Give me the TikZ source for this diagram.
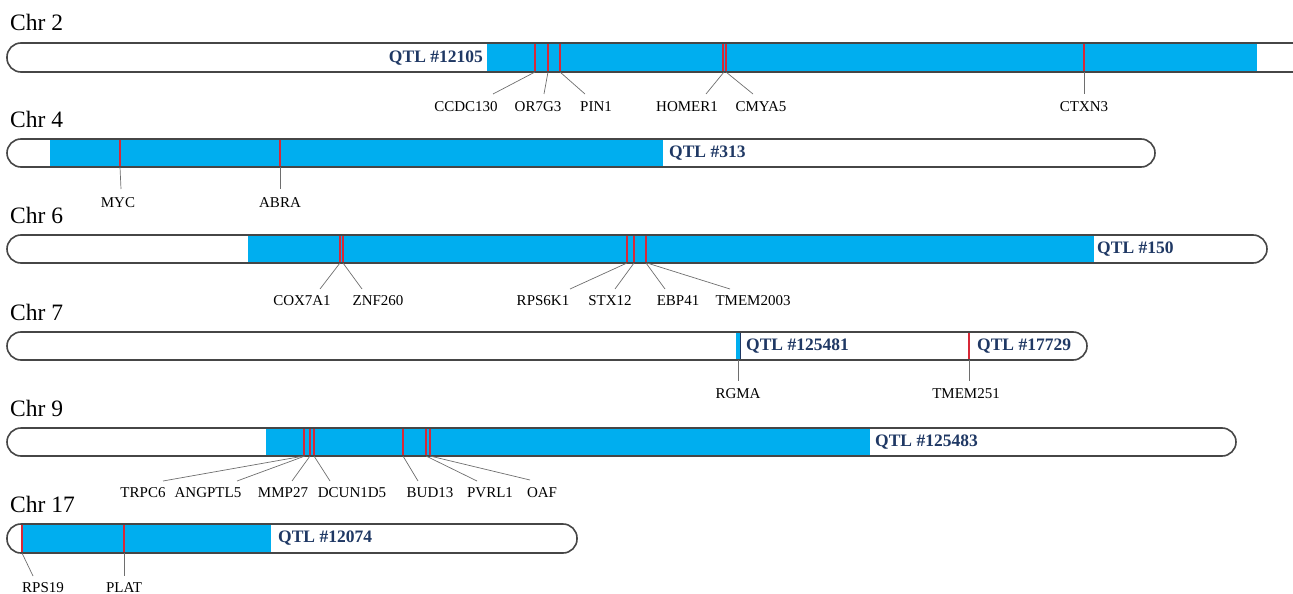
\documentclass[tikz,border=0pt]{standalone}
\usepackage{fontspec}
\setmainfont{Liberation Serif}
\definecolor{qtlblue}{RGB}{0,174,239}
\definecolor{qtltext}{RGB}{31,56,100}
\definecolor{markred}{RGB}{215,40,55}
\definecolor{barline}{RGB}{70,70,70}
\definecolor{leadgray}{RGB}{110,110,110}
\tikzset{
  chrbar/.style={draw=barline, line width=1.6pt, rounded corners=14pt},
  qtlfill/.style={fill=qtlblue},
  marker/.style={draw=markred, line width=1.3pt},
  leader/.style={draw=leadgray, line width=0.7pt},
  gene/.style={inner sep=0pt, anchor=base, font=\fontsize{15}{18}\selectfont},
  qtllab/.style={inner sep=0pt, text=qtltext, font=\fontsize{17.5}{20}\selectfont\bfseries},
  chrlab/.style={inner sep=0pt, anchor=base west, font=\fontsize{23.5}{26}\selectfont},
}
\begin{document}
\begin{tikzpicture}[x=1pt,y=-1pt]
\useasboundingbox (0,0) rectangle (1293,594);
\clip (0,0) rectangle (1293,594);

% ---------------- Chr 2 ----------------
\node[chrlab] (c2) at (10,31) {Chr 2};
\fill[white] (7,43) rectangle (1320,72);
\fill[qtlfill] (487,43) rectangle (1257,72);
\foreach \x in {535,548,560,723,726,1084} \draw[marker] (\x,44) -- (\x,71);
\draw[chrbar] (7,43) rectangle (1330,72);
\node[qtllab, anchor=east] (q2) at (483,58) {QTL \#12105};
\coordinate (m2a) at (535,72); \coordinate (m2b) at (548,72); \coordinate (m2c) at (560,72);
\coordinate (m2d) at (724,72); \coordinate (m2e) at (726,72); \coordinate (m2f) at (1084,72);
\node[gene] (g2a) at (466,111) {CCDC130};
\node[gene] (g2b) at (538,111) {OR7G3};
\node[gene] (g2c) at (596,111) {PIN1};
\node[gene] (g2d) at (687,111) {HOMER1};
\node[gene] (g2e) at (761,111) {CMYA5};
\node[gene] (g2f) at (1084,111) {CTXN3};
\coordinate (e2a) at (493,94); \coordinate (e2b) at (544,94); \coordinate (e2c) at (585,94);
\coordinate (e2d) at (706,94); \coordinate (e2e) at (753,94); \coordinate (e2f) at (1084,94);
\draw[leader] (m2a) -- (e2a); \draw[leader] (m2b) -- (e2b); \draw[leader] (m2c) -- (e2c);
\draw[leader] (m2d) -- (e2d); \draw[leader] (m2e) -- (e2e); \draw[leader] (m2f) -- (e2f);

% ---------------- Chr 4 ----------------
\node[chrlab] (c4) at (10,127) {Chr 4};
\fill[white] (7,139) rectangle (1155,167);
\fill[qtlfill] (50,139) rectangle (663,167);
\foreach \x in {120,280} \draw[marker] (\x,140) -- (\x,166);
\draw[chrbar] (7,139) rectangle (1155,167);
\node[qtllab, anchor=west] (q4) at (669,153) {QTL \#313};
\coordinate (m4a) at (120,167); \coordinate (m4b) at (280,167);
\node[gene] (g4a) at (118,207) {MYC};
\node[gene] (g4b) at (280,207) {ABRA};
\coordinate (e4a) at (121,189); \coordinate (e4b) at (280,189);
\draw[leader] (m4a) -- (e4a); \draw[leader] (m4b) -- (e4b);

% ---------------- Chr 6 ----------------
\node[chrlab] (c6) at (10,223) {Chr 6};
\fill[white] (7,235) rectangle (1267,263);
\fill[qtlfill] (248,235) rectangle (1094,263);
\foreach \x in {340,343,627,634,646} \draw[marker] (\x,236) -- (\x,262);
\draw[chrbar] (7,235) rectangle (1267,263);
\node[qtllab, anchor=west] (q6) at (1097,249) {QTL \#150};
\coordinate (m6a) at (340,263); \coordinate (m6b) at (343,263); \coordinate (m6c) at (627,263);
\coordinate (m6d) at (634,263); \coordinate (m6e) at (646,263); \coordinate (m6f) at (647,263);
\node[gene] (g6a) at (302,305) {COX7A1};
\node[gene] (g6b) at (378,305) {ZNF260};
\node[gene] (g6c) at (543,305) {RPS6K1};
\node[gene] (g6d) at (610,305) {STX12};
\node[gene] (g6e) at (678,305) {EBP41};
\node[gene] (g6f) at (753,305) {TMEM2003};
\coordinate (e6a) at (320,289); \coordinate (e6b) at (362,289); \coordinate (e6c) at (570,289);
\coordinate (e6d) at (615,289); \coordinate (e6e) at (665,289); \coordinate (e6f) at (730,289);
\draw[leader] (m6a) -- (e6a); \draw[leader] (m6b) -- (e6b); \draw[leader] (m6c) -- (e6c);
\draw[leader] (m6d) -- (e6d); \draw[leader] (m6e) -- (e6e); \draw[leader] (m6f) -- (e6f);

% ---------------- Chr 7 ----------------
\node[chrlab] (c7) at (10,320) {Chr 7};
\fill[white] (7,332) rectangle (1087,360);
\fill[qtlfill] (735.5,332) rectangle (739.5,360);
\draw[draw=qtltext, line width=0.6pt] (740,333) -- (740,359);
\draw[marker] (969,333) -- (969,359);
\draw[chrbar] (7,332) rectangle (1087,360);
\node[qtllab, anchor=west] (q7a) at (746,346) {QTL \#125481};
\node[qtllab, anchor=west] (q7b) at (977,346) {QTL \#17729};
\coordinate (m7a) at (738,360); \coordinate (m7b) at (969,360);
\node[gene] (g7a) at (738,398) {RGMA};
\node[gene] (g7b) at (966,398) {TMEM251};
\coordinate (e7a) at (738,381); \coordinate (e7b) at (969,381);
\draw[leader] (m7a) -- (e7a); \draw[leader] (m7b) -- (e7b);

% ---------------- Chr 9 ----------------
\node[chrlab] (c9) at (10,416) {Chr 9};
\fill[white] (7,428) rectangle (1236,456);
\fill[qtlfill] (266,428) rectangle (870,456);
\foreach \x in {304,310,314,403,426,430} \draw[marker] (\x,429) -- (\x,455);
\draw[chrbar] (7,428) rectangle (1236,456);
\node[qtllab, anchor=west] (q9) at (875,442) {QTL \#125483};
\coordinate (m9a) at (304,456); \coordinate (m9b) at (305,456); \coordinate (m9c) at (310,456);
\coordinate (m9d) at (314,456); \coordinate (m9e) at (403,456); \coordinate (m9f) at (426,456);
\coordinate (m9g) at (430,456);
\node[gene] (g9a) at (143,497) {TRPC6};
\node[gene] (g9b) at (208,497) {ANGPTL5};
\node[gene] (g9c) at (283,497) {MMP27};
\node[gene] (g9d) at (352,497) {DCUN1D5};
\node[gene] (g9e) at (430,497) {BUD13};
\node[gene] (g9f) at (490,497) {PVRL1};
\node[gene] (g9g) at (542,497) {OAF};
\coordinate (e9a) at (163,481); \coordinate (e9b) at (237,481); \coordinate (e9c) at (292,481);
\coordinate (e9d) at (330,481); \coordinate (e9e) at (418,481); \coordinate (e9f) at (477,481);
\coordinate (e9g) at (530,480);
\draw[leader] (m9a) -- (e9a); \draw[leader] (m9b) -- (e9b); \draw[leader] (m9c) -- (e9c);
\draw[leader] (m9d) -- (e9d); \draw[leader] (m9e) -- (e9e); \draw[leader] (m9f) -- (e9f);
\draw[leader] (m9g) -- (e9g);

% ---------------- Chr 17 ----------------
\node[chrlab] (c17) at (10,512) {Chr 17};
\fill[white] (7,524) rectangle (577,553);
\fill[qtlfill] (22,524) rectangle (271,553);
\foreach \x in {22,124} \draw[marker] (\x,525) -- (\x,552);
\draw[chrbar] (7,524) rectangle (577,553);
\node[qtllab, anchor=west] (q17) at (278,538) {QTL \#12074};
\coordinate (m17a) at (22,553); \coordinate (m17b) at (124,553);
\node[gene] (g17a) at (43,592) {RPS19};
\node[gene] (g17b) at (124,592) {PLAT};
\coordinate (e17a) at (33,576); \coordinate (e17b) at (124,576);
\draw[leader] (m17a) -- (e17a); \draw[leader] (m17b) -- (e17b);
\end{tikzpicture}
\end{document}
